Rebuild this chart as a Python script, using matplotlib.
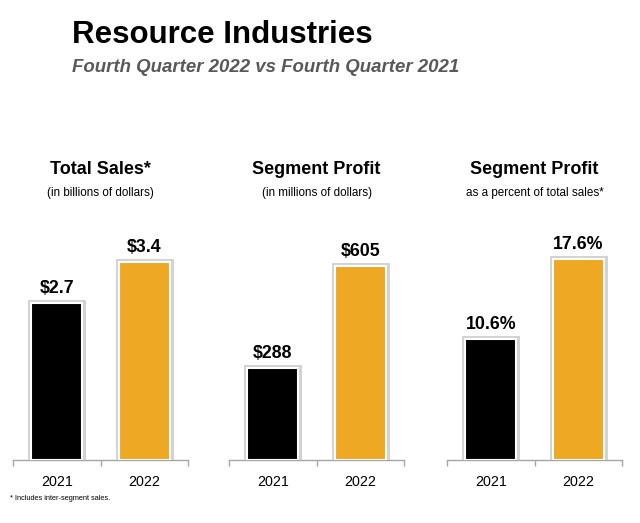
import matplotlib.pyplot as plt
import matplotlib.patheffects as pe
from matplotlib import font_manager

# Data
years = ['2021', '2022']
total_sales = [2.7, 3.4]          # billions of dollars
segment_profit = [288, 605]       # millions of dollars
profit_pct = [10.6, 17.6]         # percent of total sales

sales_labels = ['$2.7', '$3.4']
profit_labels = ['$288', '$605']
pct_labels = ['10.6%', '17.6%']

panel_titles = ['Total Sales*', 'Segment Profit', 'Segment Profit']
panel_subtitles = ['(in billions of dollars)', '(in millions of dollars)',
                   'as a percent of total sales*']

BAR_COLORS = ['#000000', '#EFA823']
AXIS_GREY = '#a6a6a6'

names = {f.name for f in font_manager.fontManager.ttflist}
narrow = 'Liberation Sans Narrow' if 'Liberation Sans Narrow' in names else 'Liberation Sans'
plt.rcParams['font.family'] = [narrow, 'DejaVu Sans']

fig = plt.figure(figsize=(6.4, 5.23), dpi=100)

fig.text(0.1125, 0.918, 'Resource Industries', fontsize=22.5, fontweight='bold',
         color='black', va='baseline', ha='left')
fig.text(0.1125, 0.862, 'Fourth Quarter 2022 vs Fourth Quarter 2021', fontsize=13.4,
         fontweight='bold', fontstyle='italic', color='#595959', va='baseline', ha='left')

panels = [(total_sales, sales_labels, 4.47),
          (segment_profit, profit_labels, 812),
          (profit_pct, pct_labels, 22.8)]
lefts = [13 / 640, 229 / 640, 447 / 640]
width = 175 / 640
bottom = 63 / 523
height = 260 / 523

for k, (vals, labels, ymax) in enumerate(panels):
    ax = fig.add_axes([lefts[k], bottom, width, height])
    bars = ax.bar(range(len(vals)), vals, width=0.58, color=BAR_COLORS,
                  edgecolor='white', linewidth=1.5, zorder=3)
    for b in bars:
        b.set_path_effects([pe.Stroke(linewidth=5, foreground='#d2d2d2'), pe.Normal()])
    for i, (v, lab) in enumerate(zip(vals, labels)):
        ax.annotate(lab, (i, v), xytext=(0, 4.5), textcoords='offset points',
                    ha='center', va='bottom', fontsize=12.8, fontweight='bold')
    ax.set_xlim(-0.5, 1.5)
    ax.set_ylim(0, ymax)
    ax.set_xticks([0, 1])
    ax.set_xticklabels(years, fontsize=10.3)
    ax.set_xticks([-0.5, 0.5, 1.5], minor=True)
    ax.tick_params(axis='x', which='major', length=0, pad=11)
    ax.tick_params(axis='x', which='minor', length=4, color=AXIS_GREY, width=1)
    ax.set_yticks([])
    for s in ['top', 'left', 'right']:
        ax.spines[s].set_visible(False)
    ax.spines['bottom'].set_color(AXIS_GREY)
    ax.spines['bottom'].set_linewidth(1)
    ax.patch.set_alpha(0)

    cx = lefts[k] + width / 2
    fig.text(cx, 0.675, panel_titles[k], ha='center', va='center',
             fontsize=13, fontweight='bold')
    fig.text(cx, 0.631, panel_subtitles[k], ha='center', va='center', fontsize=8.4)

fig.text(0.016, 0.046, '* Includes inter-segment sales.', fontsize=5.3,
         ha='left', va='center')

fig.savefig('out.png', dpi=100)
